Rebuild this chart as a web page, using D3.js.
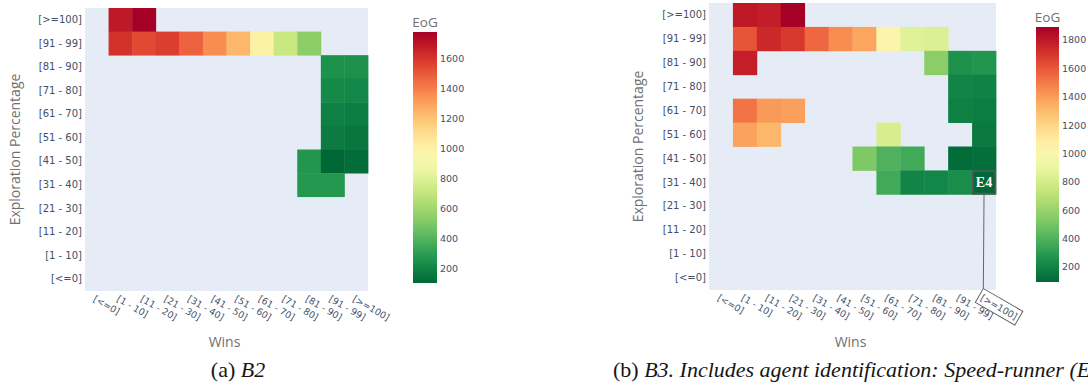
<!DOCTYPE html>
<html>
<head>
<meta charset="utf-8">
<script src="https://cdn.jsdelivr.net/npm/d3@7"></script>
<style>
  html, body { margin: 0; padding: 0; background: #fff; }
  svg { display: block; }
</style>
</head>
<body>
<svg id="fig" width="1088" height="387"></svg>
<script>
// Bins shared by both axes (low to high)
const winBins = ["[<=0]", "[1 - 10]", "[11 - 20]", "[21 - 30]", "[31 - 40]", "[41 - 50]",
                 "[51 - 60]", "[61 - 70]", "[71 - 80]", "[81 - 90]", "[91 - 99]", "[>=100]"];
const explorationBins = ["[<=0]", "[1 - 10]", "[11 - 20]", "[21 - 30]", "[31 - 40]", "[41 - 50]",
                         "[51 - 60]", "[61 - 70]", "[71 - 80]", "[81 - 90]", "[91 - 99]", "[>=100]"];

// B2: [exploration bin, wins bin, EoG]
const b2Cells = [
  ["[>=100]", "[1 - 10]", 1690], ["[>=100]", "[11 - 20]", 1775],
  ["[91 - 99]", "[1 - 10]", 1608], ["[91 - 99]", "[11 - 20]", 1540], ["[91 - 99]", "[21 - 30]", 1574],
  ["[91 - 99]", "[31 - 40]", 1474], ["[91 - 99]", "[41 - 50]", 1356], ["[91 - 99]", "[51 - 60]", 1239],
  ["[91 - 99]", "[61 - 70]", 1005], ["[91 - 99]", "[71 - 80]", 720], ["[91 - 99]", "[81 - 90]", 535],
  ["[81 - 90]", "[91 - 99]", 250], ["[81 - 90]", "[>=100]", 245],
  ["[71 - 80]", "[91 - 99]", 217], ["[71 - 80]", "[>=100]", 210],
  ["[61 - 70]", "[91 - 99]", 184], ["[61 - 70]", "[>=100]", 178],
  ["[51 - 60]", "[91 - 99]", 167], ["[51 - 60]", "[>=100]", 150],
  ["[41 - 50]", "[81 - 90]", 268], ["[41 - 50]", "[91 - 99]", 100], ["[41 - 50]", "[>=100]", 118],
  ["[31 - 40]", "[81 - 90]", 276], ["[31 - 40]", "[91 - 99]", 276]
];

// B3: [exploration bin, wins bin, EoG]
const b3Cells = [
  ["[>=100]", "[1 - 10]", 1800], ["[>=100]", "[11 - 20]", 1782], ["[>=100]", "[21 - 30]", 1890],
  ["[91 - 99]", "[1 - 10]", 1603], ["[91 - 99]", "[11 - 20]", 1746], ["[91 - 99]", "[21 - 30]", 1692],
  ["[91 - 99]", "[31 - 40]", 1549], ["[91 - 99]", "[41 - 50]", 1441], ["[91 - 99]", "[51 - 60]", 1369],
  ["[91 - 99]", "[61 - 70]", 1028], ["[91 - 99]", "[71 - 80]", 848], ["[91 - 99]", "[81 - 90]", 830],
  ["[81 - 90]", "[1 - 10]", 1775], ["[81 - 90]", "[81 - 90]", 561],
  ["[81 - 90]", "[91 - 99]", 256], ["[81 - 90]", "[>=100]", 274],
  ["[71 - 80]", "[91 - 99]", 202], ["[71 - 80]", "[>=100]", 193],
  ["[61 - 70]", "[1 - 10]", 1513], ["[61 - 70]", "[11 - 20]", 1405], ["[61 - 70]", "[21 - 30]", 1387],
  ["[61 - 70]", "[91 - 99]", 184], ["[61 - 70]", "[>=100]", 175],
  ["[51 - 60]", "[1 - 10]", 1378], ["[51 - 60]", "[11 - 20]", 1315], ["[51 - 60]", "[61 - 70]", 812],
  ["[51 - 60]", "[>=100]", 157],
  ["[41 - 50]", "[51 - 60]", 525], ["[41 - 50]", "[61 - 70]", 399], ["[41 - 50]", "[71 - 80]", 363],
  ["[41 - 50]", "[91 - 99]", 112], ["[41 - 50]", "[>=100]", 121],
  ["[31 - 40]", "[61 - 70]", 363], ["[31 - 40]", "[71 - 80]", 202], ["[31 - 40]", "[81 - 90]", 211],
  ["[31 - 40]", "[91 - 99]", 238], ["[31 - 40]", "[>=100]", 94]
];

// Highlighted agent in B3
const b3Agent = { label: "E4", exploration: "[31 - 40]", wins: "[>=100]" };

const b2Ticks = [200, 400, 600, 800, 1000, 1200, 1400, 1600];
const b3Ticks = [200, 400, 600, 800, 1000, 1200, 1400, 1600, 1800];

const captionA = { tag: "(a) ", text: "B2" };
const captionB = { tag: "(b) ", text: "B3. Includes agent identification: Speed-runner (E4)" };

const svg = d3.select("#fig");
const tickFont = "'DejaVu Sans', Verdana, sans-serif";
const titleFont = "'Open Sans', Arial, sans-serif";
const tickColor = "#3f4f68";
const titleColor = "#707070";

function drawHeatmap(cfg) {
  const g = svg.append("g");
  const x = d3.scaleBand().domain(winBins).range([cfg.x0, cfg.x1]);
  const y = d3.scaleBand().domain(explorationBins.slice().reverse()).range([cfg.y0, cfg.y1]);
  const ext = d3.extent(cfg.cells, d => d[2]);
  const color = d3.scaleSequential(t => d3.interpolateRdYlGn(1 - t)).domain(ext);

  // plot background
  g.append("rect")
    .attr("x", cfg.x0).attr("y", cfg.y0)
    .attr("width", cfg.x1 - cfg.x0).attr("height", cfg.y1 - cfg.y0)
    .attr("fill", "#e5ecf6");

  // cells
  g.selectAll("rect.cell").data(cfg.cells).join("rect")
    .attr("class", "cell")
    .attr("x", d => x(d[1])).attr("y", d => y(d[0]))
    .attr("width", x.bandwidth() + 0.4).attr("height", y.bandwidth() + 0.4)
    .attr("fill", d => color(d[2]));

  // y axis
  const ya = g.append("g")
    .attr("transform", `translate(${cfg.x0},0)`)
    .call(d3.axisLeft(y).tickSize(0).tickPadding(3));
  ya.select(".domain").remove();
  ya.selectAll("text").attr("font-family", tickFont).attr("font-size", 10).attr("fill", tickColor);

  // x axis with slanted labels
  const xa = g.append("g")
    .attr("transform", `translate(0,${cfg.y1})`)
    .call(d3.axisBottom(x).tickSize(0));
  xa.select(".domain").remove();
  xa.selectAll("text")
    .attr("font-family", tickFont).attr("font-size", 9.3).attr("fill", tickColor)
    .attr("text-anchor", "start")
    .attr("x", 0).attr("y", 0).attr("dy", "0.71em")
    .attr("transform", "translate(-1,4) rotate(30)");

  // axis titles
  g.append("text")
    .attr("transform", `translate(${cfg.yTitleX},${(cfg.y0 + cfg.y1) / 2}) rotate(-90)`)
    .attr("text-anchor", "middle").attr("dy", "0.35em")
    .attr("font-family", titleFont).attr("font-size", 14).attr("fill", titleColor)
    .text("Exploration Percentage");
  g.append("text")
    .attr("x", (cfg.x0 + cfg.x1) / 2 - 2).attr("y", cfg.xTitleY)
    .attr("text-anchor", "middle").attr("dy", "0.35em")
    .attr("font-family", titleFont).attr("font-size", 14).attr("fill", titleColor)
    .text("Wins");

  // colour bar
  const gradId = "grad" + cfg.id;
  const grad = svg.append("defs").append("linearGradient")
    .attr("id", gradId).attr("x1", 0).attr("y1", 1).attr("x2", 0).attr("y2", 0);
  d3.range(0, 1.0001, 0.05).forEach(t => {
    grad.append("stop").attr("offset", t).attr("stop-color", color(ext[0] + t * (ext[1] - ext[0])));
  });
  const by = d3.scaleLinear().domain(ext).range([cfg.bar.y1, cfg.bar.y0]);
  g.append("rect")
    .attr("x", cfg.bar.x).attr("y", cfg.bar.y0)
    .attr("width", cfg.bar.w).attr("height", cfg.bar.y1 - cfg.bar.y0)
    .attr("fill", `url(#${gradId})`);
  const ca = g.append("g")
    .attr("transform", `translate(${cfg.bar.x + cfg.bar.w},0)`)
    .call(d3.axisRight(by).tickValues(cfg.ticks).tickSize(0).tickPadding(3).tickFormat(d3.format("d")));
  ca.select(".domain").remove();
  ca.selectAll("text").attr("font-family", tickFont).attr("font-size", 9.5).attr("fill", tickColor);
  g.append("text")
    .attr("x", cfg.bar.x + cfg.bar.w / 2).attr("y", cfg.bar.y0 - 5)
    .attr("text-anchor", "middle")
    .attr("font-family", titleFont).attr("font-size", 13.5).attr("fill", titleColor)
    .text("EoG");

  // caption
  const cap = svg.append("text")
    .attr("x", cfg.capX).attr("y", 377)
    .attr("text-anchor", cfg.capAnchor)
    .attr("font-family", "'Liberation Serif', 'Times New Roman', serif")
    .attr("font-size", 22).attr("fill", "#161616");
  cap.append("tspan").text(cfg.caption.tag);
  cap.append("tspan").attr("font-style", "italic").text(cfg.caption.text);

  return { g, x, y, xa };
}

drawHeatmap({
  id: "a", cells: b2Cells, ticks: b2Ticks, caption: captionA,
  x0: 85, x1: 368, y0: 8, y1: 291,
  yTitleX: 15, xTitleY: 342,
  bar: { x: 413, w: 24, y0: 32, y1: 283 },
  capX: 238, capAnchor: "middle"
});

const b3 = drawHeatmap({
  id: "b", cells: b3Cells, ticks: b3Ticks, caption: captionB,
  x0: 709, x1: 996, y0: 3, y1: 290,
  yTitleX: 638, xTitleY: 342,
  bar: { x: 1036, w: 23, y0: 27, y1: 282 },
  capX: 613, capAnchor: "start"
});

// agent annotation: outlined cell, label, leader line to boxed tick label
(function () {
  const { g, x, y, xa } = b3;
  const cx = x(b3Agent.wins), cy = y(b3Agent.exploration);
  const w = x.bandwidth(), h = y.bandwidth();
  g.append("rect")
    .attr("x", cx + 0.8).attr("y", cy + 0.8)
    .attr("width", w - 1.6).attr("height", h - 1.6)
    .attr("fill", "none").attr("stroke", "#555").attr("stroke-width", 1.6);
  g.append("text")
    .attr("x", cx + w / 2).attr("y", cy + h / 2).attr("dy", "0.36em")
    .attr("text-anchor", "middle")
    .attr("font-family", "'Liberation Serif', 'Times New Roman', serif")
    .attr("font-weight", "bold").attr("font-size", 14).attr("fill", "#fff")
    .text(b3Agent.label);

  const tick = xa.selectAll(".tick").filter(d => d === b3Agent.wins);
  const txt = tick.select("text");
  const bb = txt.node().getBBox();
  const pad = 2.5;
  tick.insert("rect", "text")
    .attr("x", bb.x - pad).attr("y", bb.y - pad)
    .attr("width", bb.width + 2 * pad).attr("height", bb.height + 2 * pad)
    .attr("transform", txt.attr("transform"))
    .attr("fill", "#fff").attr("stroke", "#555").attr("stroke-width", 0.9);

  // corner of the box in page coordinates
  const a = Math.PI / 6;
  const px = bb.x - pad, py = bb.y - pad;
  const tickX = x(b3Agent.wins) + w / 2;
  const ex = tickX - 1 + px * Math.cos(a) - py * Math.sin(a);
  const ey = y.range()[1] + 4 + px * Math.sin(a) + py * Math.cos(a);
  g.append("line")
    .attr("x1", cx + w / 2).attr("y1", cy + h)
    .attr("x2", ex).attr("y2", ey)
    .attr("stroke", "#666").attr("stroke-width", 1);
})();
</script>
</body>
</html>
